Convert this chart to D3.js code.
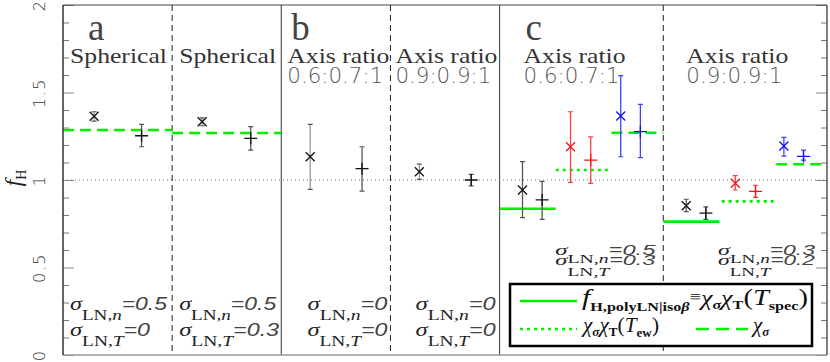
<!DOCTYPE html>
<html>
<head>
<meta charset="utf-8">
<script src="https://cdn.jsdelivr.net/npm/d3@7"></script>
<style>
  html, body { margin: 0; padding: 0; background: #fff; }
  svg { display: block; }
</style>
</head>
<body>
<svg id="chart" width="830" height="362"></svg>
<script>
/* f_H for three model sets (a, b, c): estimator points with error bars,
   green reference levels, panel dividers and a legend. */

// sub-panel extents in slot units (a and b sub-panels 2 wide, c sub-panels 3 wide)
const SUB_FROM = [0, 2, 4, 6, 8, 11];
const SUB_TO   = [2, 4, 6, 8, 11, 14];
const PANEL_DIVIDERS = [4, 8];
const SUB_DIVIDERS = [2, 6, 11];
const PANEL_LETTERS = ['a', 'b', 'c'];

const TITLE_1 = ['Spherical', 'Spherical', 'Axis ratio', 'Axis ratio', 'Axis ratio', 'Axis ratio'];
const TITLE_2 = ['', '', '0.6:0.7:1', '0.9:0.9:1', '0.6:0.7:1', '0.9:0.9:1'];
const SIGMA_N = ['0.5', '0.5', '0', '0', '0.5', '0.3'];
const SIGMA_T = ['0', '0.3', '0', '0', '0.3', '0.2'];

// estimator points
const POINT_X = [0.57, 1.44, 2.55, 3.44, 4.53, 5.48, 6.53, 7.48,
                 8.42, 8.78, 9.30, 9.67, 10.22, 10.58,
                 11.42, 11.78, 12.32, 12.69, 13.21, 13.57];
const POINT_Y = [1.364, 1.253, 1.333, 1.238, 1.133, 1.065, 1.047, 1.000,
                 0.943, 0.886, 1.190, 1.114, 1.366, 1.276,
                 0.853, 0.811, 0.981, 0.935, 1.194, 1.135];
const POINT_LO = [1.337, 1.190, 1.310, 1.171, 0.947, 0.937, 1.004, 0.966,
                  0.785, 0.775, 0.987, 0.981, 1.133, 1.128,
                  0.819, 0.775, 0.943, 0.901, 1.137, 1.114];
const POINT_HI = [1.390, 1.318, 1.355, 1.305, 1.318, 1.190, 1.091, 1.032,
                  1.105, 0.992, 1.390, 1.247, 1.596, 1.432,
                  0.890, 0.846, 1.025, 0.970, 1.244, 1.171];
const POINT_SYMBOL = ['x', '+', 'x', '+', 'x', '+', 'x', '+',
                      'x', '+', 'x', '+', 'x', '+',
                      'x', '+', 'x', '+', 'x', '+'];
const POINT_SERIES = ['k', 'k', 'k', 'k', 'k', 'k', 'k', 'k',
                      'k', 'k', 'r', 'r', 'b', 'b',
                      'k', 'k', 'r', 'r', 'b', 'b'];

// green model levels
const REF_FROM  = [0, 2, 8, 9.03, 10.05, 11, 12.07, 13.07];
const REF_TO    = [2, 4, 9.03, 10, 11, 12.03, 13.02, 14];
const REF_Y     = [1.286, 1.269, 0.836, 1.057, 1.270, 0.762, 0.878, 1.090];
const REF_STYLE = ['dash', 'dash', 'solid', 'dot', 'dash', 'solid', 'dot', 'dash'];

const Y_MAJOR = [0, 0.5, 1, 1.5, 2];
const Y_LABELS = ['0', '0.5', '1', '1.5', '2'];

// ---- styling / layout ----
const GREEN = '#00f000';
const SYM_COLOR = { k: '#111', r: '#ff1010', b: '#1010ff' };
const BAR_COLOR = { k: '#555', r: '#ff4040', b: '#4040ff' };
const DASH = { solid: null, dot: '3,4', dash: '11,6' };
const TITLE_DX = [7, 7, 6, 5, 24, 23];
const SIGMA_END_PAD = [null, null, 3, 4, 8, 12];
const SIGMA_W1 = [97, 97, 80, 80, 100, 97];
const SIGMA_W2 = [80, 100, 80, 80, 100, 97];
const SERIF = '"Liberation Serif", "DejaVu Serif", serif';
const SANS = '"DejaVu Sans", "Liberation Sans", sans-serif';
const THIN_SANS = '"Liberation Sans", Arial, sans-serif';

const L = 63, R = 827, T = 5, B = 355;
const svg = d3.select('#chart');
const x = d3.scaleLinear().domain([0, 14]).range([L, R]);
const y = d3.scaleLinear().domain([0, 2]).range([B, T]);

// dotted unity line
svg.append('line')
  .attr('x1', L).attr('x2', R).attr('y1', y(1)).attr('y2', y(1))
  .attr('stroke', '#777').attr('stroke-width', 1).attr('stroke-dasharray', '1,3');

// dividers
svg.selectAll('.sub-div').data(SUB_DIVIDERS).join('line')
  .attr('x1', d => x(d)).attr('x2', d => x(d)).attr('y1', T).attr('y2', B)
  .attr('stroke', '#222').attr('stroke-width', 1).attr('stroke-dasharray', '6,4');
svg.selectAll('.panel-div').data(PANEL_DIVIDERS).join('line')
  .attr('x1', d => x(d)).attr('x2', d => x(d)).attr('y1', T).attr('y2', B)
  .attr('stroke', '#555').attr('stroke-width', 1.2);

// axes ticks (inward) on both sides
const minor = d3.range(0, 2.0001, 0.1).filter(v => Math.abs(v * 2 - Math.round(v * 2)) > 1e-6);
svg.append('g').attr('transform', `translate(${L},0)`)
  .call(d3.axisLeft(y).tickValues(minor).tickSize(-6).tickFormat(''))
  .call(g => g.select('.domain').remove())
  .call(g => g.selectAll('line').attr('stroke', '#777'));
svg.append('g').attr('transform', `translate(${R},0)`)
  .call(d3.axisRight(y).tickValues(minor).tickSize(-6).tickFormat(''))
  .call(g => g.select('.domain').remove())
  .call(g => g.selectAll('line').attr('stroke', '#777'));
svg.append('g').attr('transform', `translate(${R},0)`)
  .call(d3.axisRight(y).tickValues(Y_MAJOR).tickSize(-11).tickFormat(''))
  .call(g => g.select('.domain').remove())
  .call(g => g.selectAll('line').attr('stroke', '#888'));
svg.append('g').attr('transform', `translate(${L},0)`)
  .call(d3.axisLeft(y).tickValues(Y_MAJOR).tickSize(-11).tickFormat((d, i) => Y_LABELS[i]))
  .call(g => g.select('.domain').remove())
  .call(g => g.selectAll('line').attr('stroke', '#888'))
  .call(g => g.selectAll('text')
    .attr('x', 0).attr('dy', 0).attr('text-anchor', 'middle')
    .attr('transform', 'translate(-18,0) rotate(-90)')
    .attr('font-family', SANS).attr('font-size', 16).attr('font-weight', 200)
    .attr('letter-spacing', 1.5).attr('fill', '#333'));

// y title: f_H
const yt = svg.append('text')
  .attr('transform', `translate(21,${y(1) - 2}) rotate(-90)`)
  .attr('text-anchor', 'middle').attr('fill', '#222');
yt.append('tspan').attr('font-family', SERIF).attr('font-style', 'italic').attr('font-size', 24).text('f');
yt.append('tspan').attr('font-family', SERIF).attr('font-size', 14).attr('dy', 5).text('H');

// green reference levels
svg.selectAll('.ref').data(REF_Y).join('line')
  .attr('x1', (d, i) => x(REF_FROM[i])).attr('x2', (d, i) => x(REF_TO[i]))
  .attr('y1', d => y(d)).attr('y2', d => y(d))
  .attr('stroke', GREEN).attr('stroke-width', 2.6)
  .attr('stroke-dasharray', (d, i) => DASH[REF_STYLE[i]]);

// error bars + symbols
const pts = svg.append('g').selectAll('g').data(POINT_Y).join('g')
  .attr('transform', (d, i) => `translate(${x(POINT_X[i])},0)`);
pts.append('line')
  .attr('y1', (d, i) => y(POINT_LO[i])).attr('y2', (d, i) => y(POINT_HI[i]))
  .attr('stroke', (d, i) => (POINT_SERIES[i] === 'k' && POINT_SYMBOL[i] === 'x' && POINT_X[i] < 8) ? '#999' : BAR_COLOR[POINT_SERIES[i]])
  .attr('stroke-width', 1.3);
pts.append('path')
  .attr('d', (d, i) => {
    const lo = y(POINT_LO[i]), hi = y(POINT_HI[i]);
    return `M-2.5,${lo}H2.5M-2.5,${hi}H2.5`;
  })
  .attr('stroke', (d, i) => BAR_COLOR[POINT_SERIES[i]]).attr('stroke-width', 1.2);
pts.append('path')
  .attr('d', (d, i) => {
    const cy = y(d);
    return POINT_SYMBOL[i] === 'x'
      ? `M-4.5,${cy - 4.5}L4.5,${cy + 4.5}M-4.5,${cy + 4.5}L4.5,${cy - 4.5}`
      : `M-6.5,${cy}H6.5M0,${cy - 6}V${cy + 6}`;
  })
  .attr('fill', 'none')
  .attr('stroke', (d, i) => SYM_COLOR[POINT_SERIES[i]]).attr('stroke-width', 1.3);

// panel letters
const LETTER_DX = [25, 10, 26];
svg.selectAll('.letter').data(PANEL_LETTERS).join('text')
  .attr('x', (d, i) => x(SUB_FROM[i * 2]) + LETTER_DX[i]).attr('y', 40)
  .attr('font-family', SERIF).attr('font-size', 37)
  .attr('fill', '#444').text(d => d);

// sub-panel titles
svg.selectAll('.t1').data(TITLE_1).join('text')
  .attr('x', (d, i) => x(SUB_FROM[i]) + TITLE_DX[i]).attr('y', 63)
  .attr('font-family', SERIF).attr('font-size', 21).attr('fill', '#333')
  .attr('textLength', (d, i) => i < 2 ? 97 : 102).attr('lengthAdjust', 'spacingAndGlyphs')
  .text(d => d);
svg.selectAll('.t2').data(TITLE_2.filter(d => d)).join('text')
  .attr('x', (d, i) => x(SUB_FROM[i + 2]) + TITLE_DX[i + 2]).attr('y', 83)
  .attr('font-family', SANS).attr('font-size', 21).attr('font-weight', 200).attr('fill', '#555')
  .attr('textLength', 96).attr('lengthAdjust', 'spacingAndGlyphs')
  .text(d => d);

// sigma labels (k scales the glyphs; panel c uses smaller ones)
function sigmaLabel(px, py, anchor, subVar, val, width, subDy, k) {
  const t = svg.append('text').attr('x', px).attr('y', py)
    .attr('text-anchor', anchor).attr('fill', '#222')
    .attr('textLength', width).attr('lengthAdjust', 'spacingAndGlyphs');
  t.append('tspan').attr('font-family', SERIF).attr('font-style', 'italic').attr('font-size', 19 * k).text('σ');
  t.append('tspan').attr('font-family', SERIF).attr('font-size', 15 * k).attr('dy', subDy).text('LN,');
  t.append('tspan').attr('font-family', SERIF).attr('font-style', 'italic').attr('font-size', 15 * k).text(subVar);
  t.append('tspan').attr('font-family', THIN_SANS).attr('font-style', 'italic').attr('fill', '#444')
    .attr('font-size', 18 * k).attr('dy', -subDy).text('=' + val);
}
SIGMA_N.forEach((v, i) => {
  const inC = i >= 4;
  const k = inC ? 0.78 : 1;
  const y1 = inC ? 255 : 310, y2 = inC ? 265 : 336;
  const anchor = i < 2 ? 'start' : 'end';
  const px = i < 2 ? x(SUB_FROM[i]) + 7 : x(SUB_TO[i]) - SIGMA_END_PAD[i];
  sigmaLabel(px, y1, anchor, 'n', v, SIGMA_W1[i], inC ? 8 : 10, k);
  sigmaLabel(px, y2, anchor, 'T', SIGMA_T[i], SIGMA_W2[i], inC ? 11 : 10, k);
});

// frame
svg.append('line').attr('x1', L).attr('x2', R).attr('y1', B).attr('y2', B).attr('stroke', '#999').attr('stroke-width', 1.5);
svg.append('line').attr('x1', L).attr('x2', R).attr('y1', T).attr('y2', T).attr('stroke', '#444').attr('stroke-width', 1.2);
svg.append('line').attr('x1', L).attr('x2', L).attr('y1', T).attr('y2', B).attr('stroke', '#333').attr('stroke-width', 1.5);
svg.append('line').attr('x1', R).attr('x2', R).attr('y1', T).attr('y2', B).attr('stroke', '#555').attr('stroke-width', 1.5);

// legend
const lg = svg.append('g');
lg.append('rect').attr('x', 510).attr('y', 284).attr('width', 302).attr('height', 62)
  .attr('fill', '#fff').attr('stroke', '#000').attr('stroke-width', 2.5);
const legendLines = [
  { x1: 520, x2: 577, y: 301, style: 'solid' },
  { x1: 520, x2: 577, y: 329, style: 'dot' },
  { x1: 696, x2: 748, y: 329, style: 'dash' }
];
lg.selectAll('.ll').data(legendLines).join('line')
  .attr('x1', d => d.x1).attr('x2', d => d.x2).attr('y1', d => d.y).attr('y2', d => d.y)
  .attr('stroke', GREEN).attr('stroke-width', 2.6)
  .attr('stroke-dasharray', d => d.style === 'dash' ? '13,7' : DASH[d.style]);

const l1 = lg.append('text').attr('x', 582).attr('y', 305).attr('fill', '#111')
  .attr('textLength', 226).attr('lengthAdjust', 'spacingAndGlyphs');
l1.append('tspan').attr('font-family', SERIF).attr('font-style', 'italic').attr('font-size', 24).text('f');
l1.append('tspan').attr('font-family', SERIF).attr('font-weight', 'bold').attr('font-size', 13).attr('dy', 6).text('H,polyLN|iso');
l1.append('tspan').attr('font-family', SERIF).attr('font-weight', 'bold').attr('font-style', 'italic').attr('font-size', 13).text('β');
l1.append('tspan').attr('font-family', SERIF).attr('font-size', 16).attr('dy', -9).text('≡');
l1.append('tspan').attr('font-family', SERIF).attr('font-style', 'italic').attr('font-size', 21).attr('dy', 3).text('χ');
l1.append('tspan').attr('font-family', SERIF).attr('font-style', 'italic').attr('font-weight', 'bold').attr('font-size', 13).attr('dy', 4).text('σ');
l1.append('tspan').attr('font-family', SERIF).attr('font-style', 'italic').attr('font-size', 21).attr('dy', -4).text('χ');
l1.append('tspan').attr('font-family', SERIF).attr('font-weight', 'bold').attr('font-size', 13).attr('dy', 4).text('T');
l1.append('tspan').attr('font-family', SERIF).attr('font-size', 23).attr('dy', -4).text('(');
l1.append('tspan').attr('font-family', SERIF).attr('font-style', 'italic').attr('font-size', 23).text('T');
l1.append('tspan').attr('font-family', SERIF).attr('font-weight', 'bold').attr('font-size', 13).attr('dy', 5).text('spec');
l1.append('tspan').attr('font-family', SERIF).attr('font-size', 23).attr('dy', -5).text(')');

const l2 = lg.append('text').attr('x', 583).attr('y', 332).attr('fill', '#111')
  .attr('textLength', 76).attr('lengthAdjust', 'spacingAndGlyphs');
l2.append('tspan').attr('font-family', SERIF).attr('font-style', 'italic').attr('font-size', 21).text('χ');
l2.append('tspan').attr('font-family', SERIF).attr('font-style', 'italic').attr('font-weight', 'bold').attr('font-size', 13).attr('dy', 4).text('σ');
l2.append('tspan').attr('font-family', SERIF).attr('font-style', 'italic').attr('font-size', 21).attr('dy', -4).text('χ');
l2.append('tspan').attr('font-family', SERIF).attr('font-weight', 'bold').attr('font-size', 13).attr('dy', 4).text('T');
l2.append('tspan').attr('font-family', SERIF).attr('font-size', 21).attr('dy', -4).text('(');
l2.append('tspan').attr('font-family', SERIF).attr('font-style', 'italic').attr('font-size', 21).text('T');
l2.append('tspan').attr('font-family', SERIF).attr('font-weight', 'bold').attr('font-size', 13).attr('dy', 5).text('ew');
l2.append('tspan').attr('font-family', SERIF).attr('font-size', 21).attr('dy', -5).text(')');

const l3 = lg.append('text').attr('x', 753).attr('y', 332).attr('fill', '#111');
l3.append('tspan').attr('font-family', SERIF).attr('font-style', 'italic').attr('font-size', 21).text('χ');
l3.append('tspan').attr('font-family', SERIF).attr('font-style', 'italic').attr('font-weight', 'bold').attr('font-size', 13).attr('dy', 4).text('σ');
</script>
</body>
</html>
